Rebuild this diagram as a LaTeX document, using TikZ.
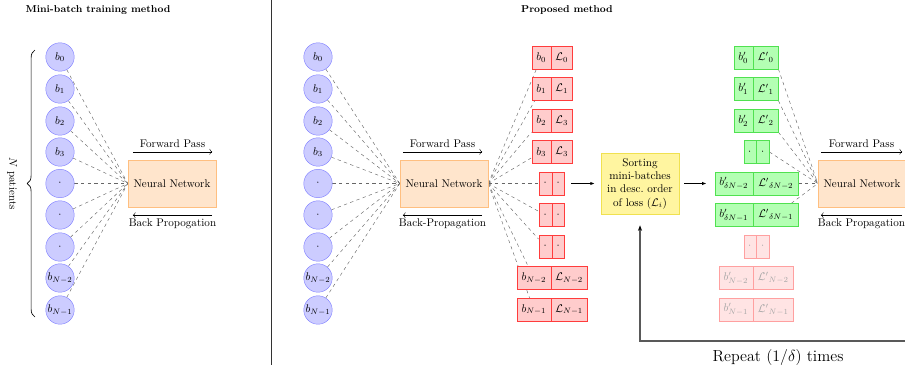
\documentclass[tikz,border=0pt]{standalone}
\usetikzlibrary{arrows.meta,backgrounds,decorations.pathreplacing}
\definecolor{ballfill}{RGB}{204,204,255}
\definecolor{balldraw}{RGB}{128,128,255}
\definecolor{nnfill}{RGB}{255,229,204}
\definecolor{nndraw}{RGB}{255,191,128}
\definecolor{redfill}{RGB}{255,204,204}
\definecolor{reddraw}{RGB}{255,60,60}
\definecolor{greenfill}{RGB}{179,255,179}
\definecolor{greendraw}{RGB}{80,225,80}
\definecolor{fadefill}{RGB}{255,228,228}
\definecolor{fadedraw}{RGB}{255,160,160}
\definecolor{sortfill}{RGB}{255,245,160}
\definecolor{sortdraw}{RGB}{240,225,80}
\newcommand{\cellrow}[8]{%
  \node[#4, anchor=east, minimum width=#5] (#1-a) at (#2,#3) {#7};
  \node[#4, anchor=west, minimum width=#6] (#1-b) at (#2,#3) {#8};}
\begin{document}
\begin{tikzpicture}[x=0.9pt,y=-0.9pt,
  ball/.style={circle, draw=balldraw, fill=ballfill, minimum size=25.6pt, inner sep=0pt},
  nnbox/.style={draw=nndraw, fill=nnfill, minimum width=79.2pt, minimum height=42.3pt},
  link/.style={dashed, draw=black!60},
  rcell/.style={draw=reddraw, fill=redfill, minimum height=20.7pt, inner sep=2pt},
  gcell/.style={draw=greendraw, fill=greenfill, minimum height=20.7pt, inner sep=2pt},
  fcell/.style={draw=fadedraw, fill=fadefill, text=black!35, minimum height=20.7pt, inner sep=2pt},
  passarrow/.style={->},
  steparrow/.style={-{Latex[length=4pt]}, thick},
  title/.style={font=\small\bfseries}]
\useasboundingbox (0,0) rectangle (905,371);
\clip (0,0) rectangle (905,371);

% titles and separator
\node[title] (t1) at (98,10) {Mini-batch training method};
\node[title] (t2) at (567,10) {Proposed method};
\coordinate (sepT) at (271,0);
\coordinate (sepB) at (271,365);
\draw[black!80] (sepT) -- (sepB);

% ---------- left panel ----------
\foreach \i/\y/\t in {0/57/$b_0$,1/89/$b_1$,2/121/$b_2$,3/152/$b_3$,4/183.5/$\cdot$,5/215/$\cdot$,6/247/$\cdot$,7/278/$b_{N-2}$,8/310/$b_{N-1}$}
  \node[ball] (l\i) at (60,\y) {\t};
\node[nnbox] (nn1) at (172,183.5) {Neural Network};
\coordinate (brT) at (35,50);
\coordinate (brB) at (35,317);
\draw[decorate, decoration={brace, amplitude=7pt}, semithick] (brB) -- (brT);
\node[rotate=-90] (np) at (12,183.5) {$N$ patients};
\draw[passarrow] ([shift={(5,-8)}]nn1.north west) -- ([shift={(-4,-8)}]nn1.north east) node[midway, above] {Forward Pass};
\draw[passarrow] ([shift={(-4,8)}]nn1.south east) -- ([shift={(5,8)}]nn1.south west) node[midway, below] {Back Propogation};

% ---------- middle panel ----------
\foreach \i/\y/\t in {0/57/$b_0$,1/89/$b_1$,2/121/$b_2$,3/152/$b_3$,4/183.5/$\cdot$,5/215/$\cdot$,6/247/$\cdot$,7/278/$b_{N-2}$,8/310/$b_{N-1}$}
  \node[ball] (m\i) at (318,\y) {\t};
\node[nnbox] (nn2) at (444,183.5) {Neural Network};
\draw[passarrow] ([shift={(3,-8)}]nn2.north west) -- ([shift={(-6,-8)}]nn2.north east) node[midway, above] {Forward Pass};
\draw[passarrow] ([shift={(-6,8)}]nn2.south east) -- ([shift={(3,8)}]nn2.south west) node[midway, below] {Back-Propagation};

% red cells
\cellrow{r0}{551}{57.5}{rcell}{17.1pt}{18.9pt}{$b_0$}{$\mathcal{L}_0$}
\cellrow{r1}{551}{89}{rcell}{17.1pt}{18.9pt}{$b_1$}{$\mathcal{L}_1$}
\cellrow{r2}{551}{120.5}{rcell}{17.1pt}{18.9pt}{$b_2$}{$\mathcal{L}_3$}
\cellrow{r3}{551}{152}{rcell}{17.1pt}{18.9pt}{$b_3$}{$\mathcal{L}_3$}
\cellrow{r4}{552}{183.5}{rcell}{11.7pt}{10.8pt}{$\cdot$}{$\cdot$}
\cellrow{r5}{552}{215}{rcell}{11.7pt}{10.8pt}{$\cdot$}{$\cdot$}
\cellrow{r6}{552}{246.5}{rcell}{11.7pt}{10.8pt}{$\cdot$}{$\cdot$}
\cellrow{r7}{551}{278}{rcell}{30.6pt}{32.4pt}{$b_{N-2}$}{$\mathcal{L}_{N-2}$}
\cellrow{r8}{551}{309.5}{rcell}{30.6pt}{32.4pt}{$b_{N-1}$}{$\mathcal{L}_{N-1}$}

% sorting
\node[draw=sortdraw, fill=sortfill, minimum width=70.2pt, minimum height=54.9pt, align=center, inner sep=1pt] (sort) at (640,183.5)
  {Sorting\\mini-batches\\in desc.\ order\\of loss ($\mathcal{L}_i$)};
\draw[steparrow, shorten <=6.3pt, shorten >=5.4pt] (r4-b.east) -- (sort.west);

% green cells
\cellrow{g0}{753}{57.5}{gcell}{17.1pt}{22.5pt}{$b'_0$}{${\mathcal{L}'}_0$}
\cellrow{g1}{753}{89}{gcell}{17.1pt}{22.5pt}{$b'_1$}{${\mathcal{L}'}_1$}
\cellrow{g2}{753}{120.5}{gcell}{17.1pt}{22.5pt}{$b'_2$}{${\mathcal{L}'}_2$}
\cellrow{g3}{756}{152}{gcell}{10.8pt}{11.7pt}{$\cdot$}{$\cdot$}
\cellrow{g4}{753}{183.5}{gcell}{34.2pt}{40.5pt}{$b'_{\delta N-2}$}{${\mathcal{L}'}_{\delta N-2}$}
\cellrow{g5}{753}{215}{gcell}{34.2pt}{40.5pt}{$b'_{\delta N-1}$}{${\mathcal{L}'}_{\delta N-1}$}
\cellrow{f6}{756}{246.5}{fcell}{10.8pt}{11.7pt}{$\cdot$}{$\cdot$}
\cellrow{f7}{753}{278}{fcell}{30.6pt}{36pt}{$b'_{N-2}$}{${\mathcal{L}'}_{N-2}$}
\cellrow{f8}{753}{309.5}{fcell}{30.6pt}{36pt}{$b'_{N-1}$}{${\mathcal{L}'}_{N-1}$}
\draw[steparrow, shorten <=4.5pt, shorten >=7.2pt] (sort.east) -- (g4-a.west);

% right panel
\node[nnbox] (nn3) at (862,183.5) {Neural Network};
\draw[passarrow] ([shift={(3,-8)}]nn3.north west) -- ([shift={(-4,-8)}]nn3.north east) node[midway, above] {Forward Pass};
\draw[passarrow] ([shift={(-4,8)}]nn3.south east) -- ([shift={(3,8)}]nn3.south west) node[midway, below] {Back Propagation};

% repeat loop
\coordinate (loopS) at (930,341);
\coordinate (loopC) at (sort.south |- loopS);
\draw[black!65, line width=1.2pt, -{Stealth[length=5pt, black]}, shorten >=10pt] (loopS) -- (loopC) -- (sort.south);
\node[font=\Large] (rep) at (778,357) {Repeat $(1/\delta)$ times};

% dashed connectors
\begin{pgfonlayer}{background}
\foreach \i in {0,...,8} \draw[link] (l\i) -- (nn1.west);
\foreach \i in {0,...,8} \draw[link] (m\i) -- (nn2.west);
\foreach \i in {0,...,8} \draw[link] (nn2.east) -- (r\i-a);
\foreach \i in {0,1,2} \draw[link] (g\i-b.south east) -- (nn3.west);
\draw[link] (g3-b.east) -- (nn3.west);
\draw[link] (g4-b.east) -- (nn3.west);
\draw[link] (g5-b) -- (nn3.west);
\end{pgfonlayer}
\end{tikzpicture}
\end{document}
